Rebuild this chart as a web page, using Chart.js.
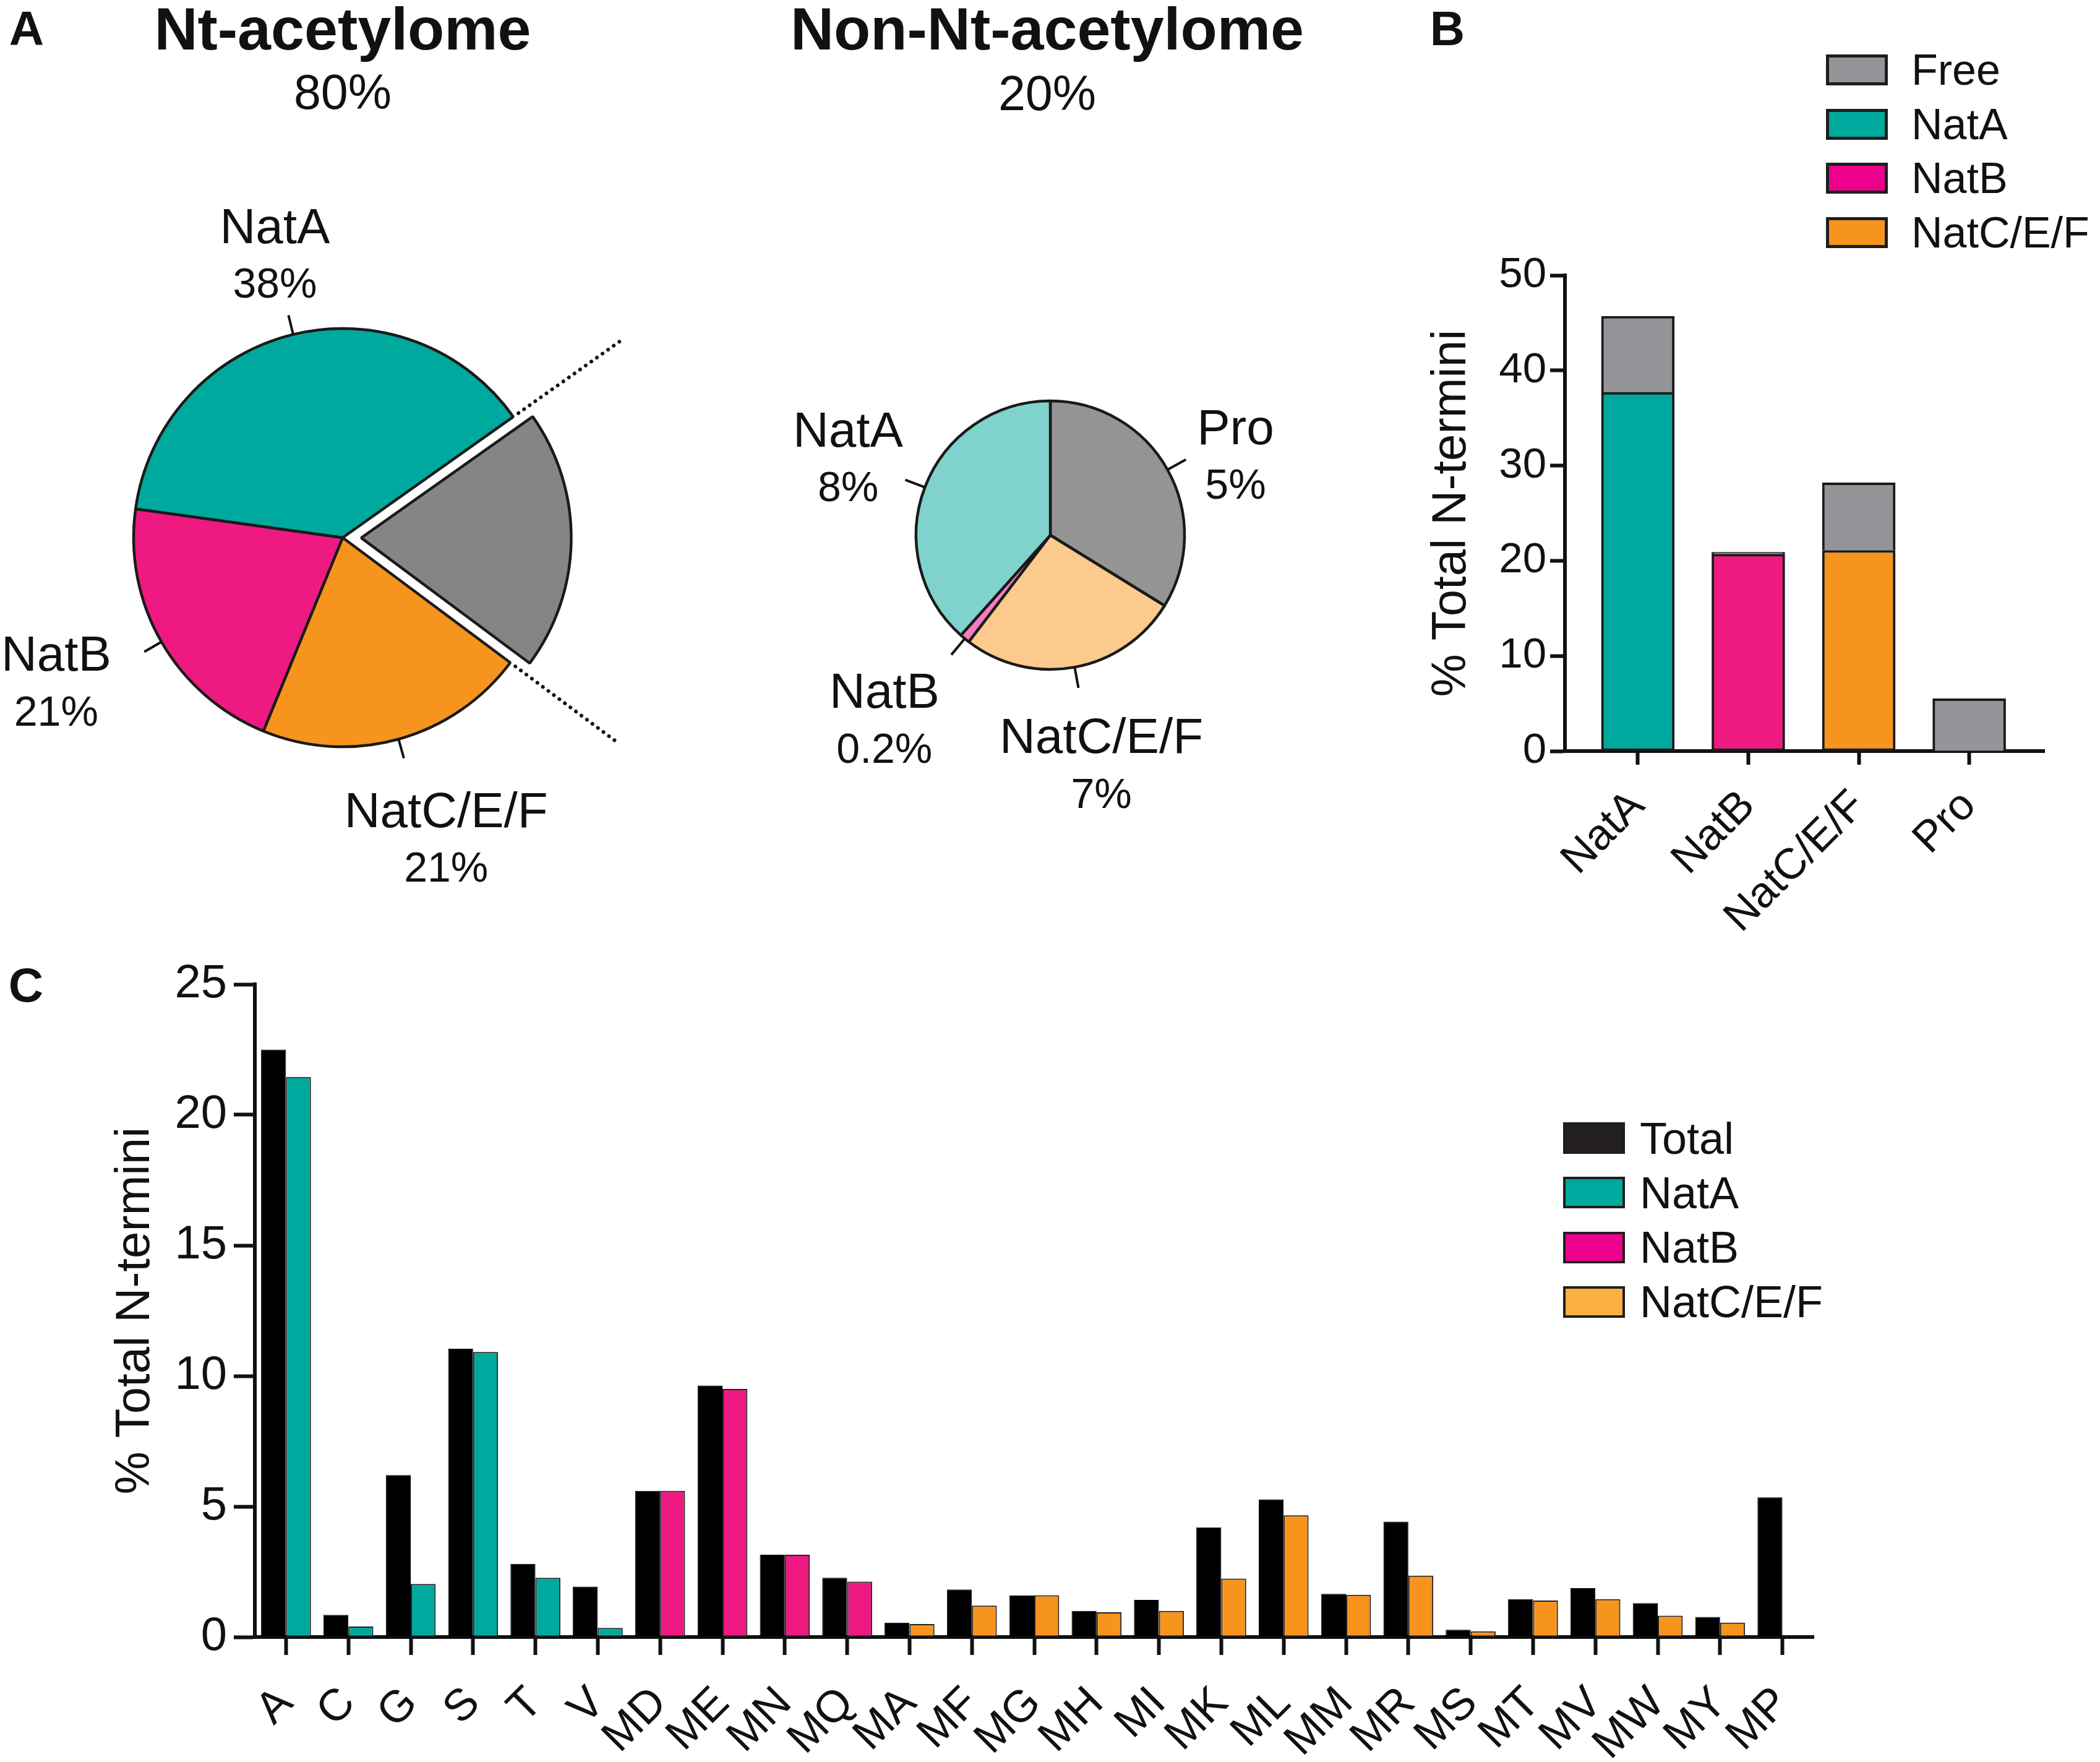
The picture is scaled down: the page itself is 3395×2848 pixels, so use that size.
<!DOCTYPE html>
<html lang="en">
<head>
<meta charset="UTF-8">
<title>Nt-acetylome</title>
<script src="https://cdn.jsdelivr.net/npm/chart.js"></script>
<style>
  body { margin: 0; background: #fff; font-family: 'Liberation Sans', Arial, sans-serif; color: #111; }
  #page { position: relative; width: 3395px; height: 2848px; overflow: hidden; background: #fff; }
  canvas { position: absolute; }
  .txt { position: absolute; transform: translate(-50%, -50%); white-space: nowrap; line-height: 1; }
  .panel { font-weight: bold; font-size: 78px; }
  .title { font-weight: bold; font-size: 97px; }
  .sub { font-size: 79px; }
  .lg-box { position: absolute; box-sizing: border-box; }
  .lg-text { position: absolute; white-space: nowrap; line-height: 1; transform: translateY(-50%); }
</style>
</head>
<body>
<div id="page">
  <div class="txt panel" style="left:43px; top:46px;">A</div>
  <div class="txt panel" style="left:2340px; top:46px;">B</div>
  <div class="txt panel" style="left:42px; top:1592px;">C</div>

  <div class="txt title" style="left:554px; top:46px;">Nt-acetylome</div>
  <div class="txt sub" style="left:554px; top:148px;">80%</div>
  <div class="txt title" style="left:1693px; top:46px;">Non-Nt-acetylome</div>
  <div class="txt sub" style="left:1693px; top:150px;">20%</div>

  <canvas id="pieNt" width="1110" height="1140" style="left:0px; top:300px;"></canvas>
  <canvas id="pieNon" width="1100" height="900" style="left:1150px; top:480px;"></canvas>
  <canvas id="barB" width="1145" height="1200" style="left:2250px; top:380px;"></canvas>
  <canvas id="barC" width="3000" height="1348" style="left:0px; top:1500px;"></canvas>

  <div id="legendB"></div>
  <div id="legendC"></div>
</div>

<script>
// ---- Panel A: pies ----
const ntLabels = ['Free', 'NatC/E/F', 'NatB', 'NatA'];
const ntShare = [20, 21, 21, 38];
const ntPct = ['', '21%', '21%', '38%'];

const nonLabels = ['Pro', 'NatC/E/F', 'NatB', 'NatA'];
const nonShare = [33.8, 26.6, 1.2, 38.4];   // slice sizes as drawn
const nonPct = ['5%', '7%', '0.2%', '8%'];

// ---- Panel B: stacked bars ----
const bCategories = ['NatA', 'NatB', 'NatC/E/F', 'Pro'];
const bAcetylated = [37.7, 20.7, 21.1, null];
const bFree = [8.0, 0.2, 7.1, 5.5];

// ---- Panel C: grouped bars ----
const cCategories = ['A', 'C', 'G', 'S', 'T', 'V', 'MD', 'ME', 'MN', 'MQ', 'MA', 'MF', 'MG',
  'MH', 'MI', 'MK', 'ML', 'MM', 'MR', 'MS', 'MT', 'MV', 'MW', 'MY', 'MP'];
const cTotal = [22.5, 0.85, 6.2, 11.05, 2.8, 1.93, 5.6, 9.63, 3.15, 2.27, 0.55, 1.82, 1.6,
  1.0, 1.42, 4.2, 5.27, 1.65, 4.42, 0.28, 1.45, 1.87, 1.3, 0.77, 5.35];
const cNatA = [21.45, 0.4, 2.03, 10.92, 2.27, 0.35, null, null, null, null, null, null, null,
  null, null, null, null, null, null, null, null, null, null, null, null];
const cNatB = [null, null, null, null, null, null, 5.6, 9.5, 3.15, 2.12, null, null, null,
  null, null, null, null, null, null, null, null, null, null, null, null];
const cNatCEF = [null, null, null, null, null, null, null, null, null, null, 0.5, 1.2, 1.6,
  0.95, 1.0, 2.24, 4.66, 1.62, 2.35, 0.22, 1.4, 1.45, 0.82, 0.55, null];

const FONT = "'Liberation Sans', Arial, sans-serif";
const INK = '#111';
Chart.defaults.font.family = FONT;
Chart.defaults.color = INK;

const teal = '#00A99D', pink = '#EE1A82', orange = '#F7941D', grey = '#939598';

// labels, leader ticks and dotted guide lines for the pies
const pieLabels = {
  id: 'pieLabels',
  afterDatasetsDraw(chart, args, o) {
    const ctx = chart.ctx;
    const meta = chart.getDatasetMeta(0);
    ctx.save();
    meta.data.forEach((arc, i) => {
      const p = arc.getProps(['x', 'y', 'startAngle', 'endAngle', 'outerRadius'], true);
      const mid = (p.startAngle + p.endAngle) / 2;
      const c = Math.cos(mid), s = Math.sin(mid);
      if (o.dotted === i) {
        ctx.strokeStyle = INK;
        ctx.lineWidth = 6;
        ctx.lineCap = 'round';
        ctx.setLineDash([0.1, 11]);
        [p.startAngle, p.endAngle].forEach(a => {
          ctx.beginPath();
          ctx.moveTo(p.x + Math.cos(a) * p.outerRadius * 1.03, p.y + Math.sin(a) * p.outerRadius * 1.03);
          ctx.lineTo(p.x + Math.cos(a) * p.outerRadius * 1.63, p.y + Math.sin(a) * p.outerRadius * 1.63);
          ctx.stroke();
        });
        ctx.setLineDash([]);
      }
      const pct = o.pct[i];
      if (!pct) return;
      const r0 = p.outerRadius, r1 = p.outerRadius + o.tick;
      ctx.strokeStyle = INK;
      ctx.lineWidth = 4;
      ctx.lineCap = 'butt';
      ctx.beginPath();
      ctx.moveTo(p.x + c * r0, p.y + s * r0);
      ctx.lineTo(p.x + c * r1, p.y + s * r1);
      ctx.stroke();

      const name = chart.data.labels[i];
      ctx.font = o.nameSize + 'px ' + FONT;
      const w1 = ctx.measureText(name).width;
      ctx.font = o.pctSize + 'px ' + FONT;
      const w2 = ctx.measureText(pct).width;
      const w = Math.max(w1, w2), h = o.lineGap * 2;
      const nd = o.nudge[i] || [0, 0];
      const tx = p.x + c * r1 + c * (w / 2 + o.gx) + nd[0];
      const ty = p.y + s * r1 + s * (h / 2 + o.gy) + nd[1];
      ctx.fillStyle = INK;
      ctx.textAlign = 'center';
      ctx.textBaseline = 'middle';
      ctx.font = o.nameSize + 'px ' + FONT;
      ctx.fillText(name, tx, ty - o.lineGap / 2 - 4);
      ctx.font = o.pctSize + 'px ' + FONT;
      ctx.fillText(pct, tx, ty + o.lineGap / 2 + 4);
    });
    ctx.restore();
  }
};

function pie(id, labels, values, colors, opts) {
  return new Chart(document.getElementById(id), {
    type: 'pie',
    data: {
      labels: labels,
      datasets: [{
        data: values,
        backgroundColor: colors,
        borderColor: '#1a1a1a',
        borderWidth: 4.5,
        offset: opts.offset || 0
      }]
    },
    options: {
      responsive: false,
      animation: false,
      devicePixelRatio: 1,
      rotation: opts.rotation,
      radius: opts.radius,
      layout: { padding: opts.padding },
      plugins: {
        legend: { display: false },
        tooltip: { enabled: false },
        pieLabels: opts.labels
      }
    },
    plugins: [pieLabels]
  });
}

// arc offset is divided by 4 inside Chart.js, 120 -> ~30px pull-out
pie('pieNt', ntLabels, ntShare, ['#858585', orange, pink, teal], {
  rotation: 54.7, radius: 338, offset: [120, 0, 0, 0],
  padding: { left: 0, top: 0, right: 2, bottom: 2 },
  labels: {
    pct: ntPct, tick: 32, nameSize: 80, pctSize: 68, lineGap: 84, gx: 50, gy: 25, dotted: 0,
    nudge: [[0, 0], [11, 30], [-22, 0], [11, 13]]
  }
});

pie('pieNon', nonLabels, nonShare, ['#949494', '#FBCA8C', '#F27DBF', '#7FD3CC'], {
  rotation: 0, radius: 217,
  padding: { left: 0, top: 0, right: 4, bottom: 130 },
  labels: {
    pct: nonPct, tick: 34, nameSize: 80, pctSize: 68, lineGap: 84, gx: 40, gy: 25, dotted: -1,
    nudge: [[-9, 52], [0, 22], [-26, 26], [28, 9]]
  }
});

// ---- Panel B chart ----
new Chart(document.getElementById('barB'), {
  type: 'bar',
  data: {
    datasets: [
      {
        label: 'Nt-acetylated',
        data: bAcetylated.map((v, i) => ({ x: i, y: v })),
        backgroundColor: [teal, pink, orange, grey],
        borderColor: '#1b1b1b', borderWidth: 4, borderSkipped: false, barThickness: 118
      },
      {
        label: 'Free',
        data: bFree.map((v, i) => ({ x: i, y: v })),
        backgroundColor: grey,
        borderColor: '#1b1b1b', borderWidth: 4, borderSkipped: 'bottom', barThickness: 118
      }
    ]
  },
  options: {
    responsive: false,
    animation: false,
    devicePixelRatio: 1,
    layout: { padding: { left: 0, top: 65, right: 90, bottom: 0 } },
    plugins: { legend: { display: false }, tooltip: { enabled: false } },
    scales: {
      x: {
        type: 'linear', stacked: true, offset: false, min: -0.66, max: 3.68,
        afterBuildTicks: s => { s.ticks = bCategories.map((c, i) => ({ value: i })); },
        afterFit: s => { s.height = 366; },
        grid: { offset: false, drawOnChartArea: false, tickLength: 22, tickWidth: 6, tickColor: INK },
        border: { width: 6, color: INK },
        ticks: {
          callback: v => bCategories[v], autoSkip: false, minRotation: 45, maxRotation: 45,
          padding: 26, color: INK, font: { size: 70 }
        }
      },
      y: {
        stacked: true, min: 0, max: 50,
        afterFit: s => { s.width = 280; },
        grid: { drawOnChartArea: false, tickLength: 24, tickWidth: 6, tickColor: INK },
        border: { width: 6, color: INK },
        ticks: { stepSize: 10, padding: 6, color: INK, font: { size: 69 } },
        title: { display: true, text: '% Total N-termini', color: INK, font: { size: 78 }, padding: { top: 51, bottom: 0 } }
      }
    }
  }
});

// ---- Panel C chart ----
const thin = { borderColor: '#222', borderWidth: 2, borderSkipped: false };
new Chart(document.getElementById('barC'), {
  type: 'bar',
  data: {
    labels: cCategories,
    datasets: [
      { label: 'Total', data: cTotal, stack: 'total', backgroundColor: '#000', borderColor: '#000', borderWidth: 1 },
      Object.assign({ label: 'NatA', data: cNatA, stack: 'sub', backgroundColor: teal }, thin),
      Object.assign({ label: 'NatB', data: cNatB, stack: 'sub', backgroundColor: pink }, thin),
      Object.assign({ label: 'NatC/E/F', data: cNatCEF, stack: 'sub', backgroundColor: orange }, thin)
    ]
  },
  options: {
    responsive: false,
    animation: false,
    devicePixelRatio: 1,
    categoryPercentage: 0.8,
    barPercentage: 1.0,
    layout: { padding: { left: 0, top: 91, right: 68, bottom: 0 } },
    plugins: { legend: { display: false }, tooltip: { enabled: false } },
    scales: {
      x: {
        stacked: true,
        afterFit: s => { s.height = 202; },
        grid: { offset: false, drawOnChartArea: false, tickLength: 29, tickWidth: 6, tickColor: INK },
        border: { width: 6, color: INK },
        ticks: { autoSkip: false, minRotation: 45, maxRotation: 45, padding: 36, color: INK, font: { size: 72 } }
      },
      y: {
        stacked: true, min: 0, max: 25,
        afterFit: s => { s.width = 412; },
        grid: { drawOnChartArea: false, tickLength: 34, tickWidth: 6, tickColor: INK },
        border: { width: 6, color: INK },
        ticks: { stepSize: 5, padding: 11, color: INK, font: { size: 76 } },
        title: { display: true, text: '% Total N-termini', color: INK, font: { size: 78 }, padding: { top: 173, bottom: 0 } }
      }
    }
  }
});

// ---- legends ----
function legend(id, items, x, y0, step, w, h, border, textX, size) {
  const root = document.getElementById(id);
  items.forEach((it, i) => {
    const top = y0 + i * step;
    const b = document.createElement('div');
    b.className = 'lg-box';
    b.style.cssText = `left:${x}px; top:${top}px; width:${w}px; height:${h}px; background:${it.color}; border:${border}px solid #1e1e1e;`;
    root.appendChild(b);
    const t = document.createElement('div');
    t.className = 'lg-text';
    t.style.cssText = `left:${textX}px; top:${top + h / 2}px; font-size:${size}px;`;
    t.textContent = it.name;
    root.appendChild(t);
  });
}
legend('legendB', [
  { name: 'Free', color: grey }, { name: 'NatA', color: teal },
  { name: 'NatB', color: '#EC008C' }, { name: 'NatC/E/F', color: orange }
], 2952, 88, 87.5, 100, 50, 5, 3090, 70);
legend('legendC', [
  { name: 'Total', color: '#231F20' }, { name: 'NatA', color: teal },
  { name: 'NatB', color: '#EC008C' }, { name: 'NatC/E/F', color: '#FBB040' }
], 2527, 1814, 88.3, 100, 51, 4, 2651, 72);
</script>
</body>
</html>
